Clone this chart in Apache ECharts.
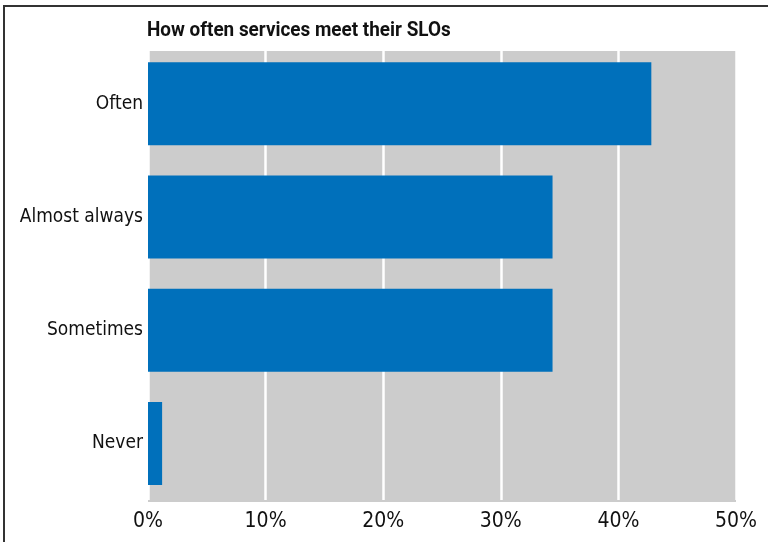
<!DOCTYPE html>
<html>
<head>
<meta charset="utf-8">
<style>
  html, body { margin: 0; padding: 0; background: #ffffff; }
  #chart { width: 768px; height: 542px; }
</style>
<script src="https://cdn.jsdelivr.net/npm/echarts@6/dist/echarts.min.js"></script>
</head>
<body>
<div id="chart"></div>
<script>
// Survey answers, listed bottom-to-top as the category axis draws them
const categories = ['Never', 'Sometimes', 'Almost always', 'Often'];
const shares = [1.2, 34.4, 34.4, 42.8];
const xTicks = [0, 10, 20, 30, 40, 50];
const titleText = 'How often services meet their SLOs';

const FONT = '"Liberation Sans Narrow", "DejaVu Sans Condensed", sans-serif';
const BLUE = '#0070bb';
const PANEL = '#cccccc';

const chart = echarts.init(document.getElementById('chart'), null, { renderer: 'canvas' });

const gridLeft = 148, gridRight = 32, gridTop = 47, gridBottom = 42;

chart.setOption({
  animation: false,
  backgroundColor: '#ffffff',
  graphic: [
    // grey panel behind the bars
    {
      type: 'rect',
      z: -10,
      shape: { x: gridLeft, y: 51, width: 768 - gridLeft - gridRight, height: 451 },
      style: { fill: PANEL }
    },
    // frame lines along the top and left edges
    {
      type: 'polyline',
      z: 10,
      shape: { points: [[4, 542], [4, 6], [768, 6]] },
      style: { stroke: '#333333', lineWidth: 2, fill: null }
    },
    // condensed bold heading
    {
      type: 'text',
      x: 147,
      y: 20,
      scaleX: 0.9,
      style: {
        text: titleText,
        font: 'bold 21px Roboto, "DejaVu Sans", sans-serif',
        fill: '#111111',
        textVerticalAlign: 'top'
      }
    }
  ],
  grid: {
    left: gridLeft,
    right: gridRight,
    top: gridTop,
    bottom: gridBottom,
    containLabel: false
  },
  xAxis: {
    type: 'value',
    min: xTicks[0],
    max: xTicks[xTicks.length - 1],
    interval: xTicks[1] - xTicks[0],
    axisLine: { show: false },
    axisTick: { show: false },
    axisLabel: {
      formatter: v => v + '%',
      fontFamily: FONT,
      fontSize: 21,
      color: '#111111',
      margin: 11,
      showMinLabel: true,
      showMaxLabel: true
    },
    splitLine: {
      show: true,
      lineStyle: { color: '#ffffff', width: 2.5 }
    }
  },
  yAxis: {
    type: 'category',
    data: categories,
    axisLine: { show: false },
    axisTick: { show: false },
    axisLabel: {
      fontFamily: FONT,
      fontSize: 19,
      color: '#111111',
      margin: 5
    },
    splitLine: { show: false }
  },
  series: [{
    type: 'bar',
    data: shares,
    barWidth: 83,
    itemStyle: { color: BLUE },
    z: 5
  }]
});
</script>
</body>
</html>
